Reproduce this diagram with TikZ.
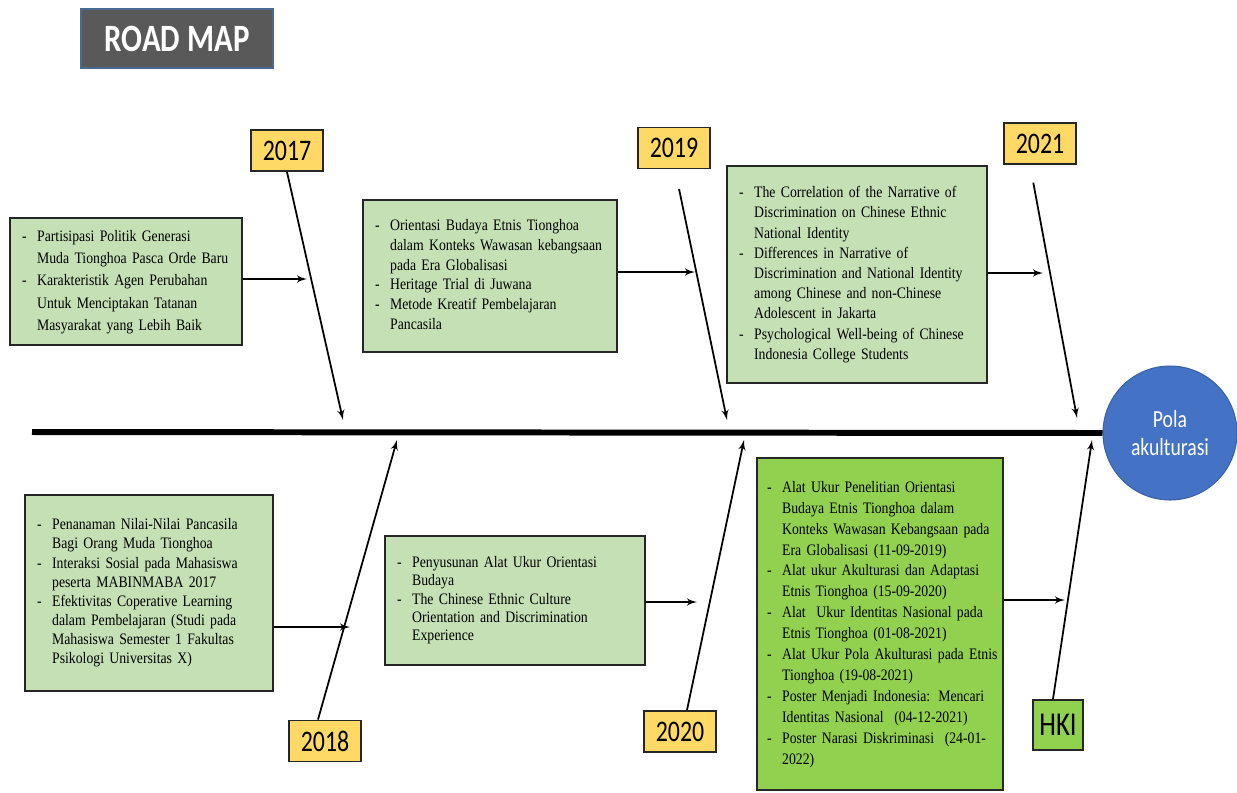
\documentclass[tikz,border=0pt]{standalone}
\usepackage{fontspec}
\setmainfont{Liberation Serif}[FakeStretch=0.86]
\newfontfamily\calibri{Carlito}[FakeStretch=0.8]
\usepackage{tikz}
\usetikzlibrary{arrows}
\usetikzlibrary{positioning}
\definecolor{lgreen}{HTML}{C5E0B4}
\definecolor{bgreen}{HTML}{92D050}
\definecolor{ayellow}{HTML}{FFD966}
\definecolor{mblue}{HTML}{4472C4}
\definecolor{dgrey}{HTML}{595959}
\definecolor{slate}{HTML}{4A6A94}
\tikzset{arr/.style = {-latex', line width=1pt}}
\tikzset{spine/.style = {line width=3.4pt}}
\tikzset{topic/.style = {draw=black!85, line width=1pt, fill=lgreen,
                         inner xsep=0.24cm, inner ysep=2pt,
                         font=\fontsize{9.1pt}{#1}\selectfont},
         topic/.default = 11.4pt}
\tikzset{year/.style = {draw=black!85, line width=1.1pt, fill=ayellow,
                        minimum width=1.44cm, minimum height=0.82cm, inner sep=0,
                        font=\calibri\fontsize{17pt}{17pt}\selectfont}}
\newenvironment{points}{\begin{tabular}{@{}l@{\hspace{6pt}}l@{}}}{\end{tabular}}

\begin{document}
\begin{tikzpicture}[x=0.02cm, y=-0.02cm]
  \useasboundingbox (0,0) rectangle (1237,792);

  \node [draw=slate, line width=1.2pt, fill=dgrey, text=white,
         minimum width=3.84cm, minimum height=1.18cm,
         font=\calibri\bfseries\fontsize{22pt}{22pt}\selectfont] (roadmap) at (177,38.5) {ROAD MAP};

  \coordinate (spineL) at (32,432);
  \node [circle, fill=mblue, draw=mblue!85!black, line width=0.6pt, minimum size=2.68cm,
         text=white, align=center, font=\calibri\fontsize{14pt}{16pt}\selectfont] (pola) at (1170,433)
        {Pola\\akulturasi};
  \draw [spine] (spineL) -- (pola.west);

  \node [year] (y17) at (287,150.5) {2017};
  \node [year] (y19) at (674,148) {2019};
  \node [year] (y21) at (1040,143.5) {2021};
  \node [year] (y18) at (325,741) {2018};
  \node [year] (y20) at (680,731.5) {2020};
  \node [draw=black!85, line width=1.2pt, fill=bgreen, minimum size=1cm, inner sep=0,
         font=\calibri\fontsize{19pt}{19pt}\selectfont] (hki) at (1058,725) {HKI};

  \node [topic=12.7pt, text width=4.16cm, minimum height=2.54cm] (box1) at (126,281.5) {
    \begin{points}
      - & Partisipasi Politik Generasi\\
        & Muda Tionghoa Pasca Orde Baru\\
      - & Karakteristik Agen Perubahan\\
        & Untuk Menciptakan Tatanan\\
        & Masyarakat yang Lebih Baik
    \end{points}};
  \node [topic=11.2pt, text width=4.6cm, minimum height=3.04cm] (box2) at (490,276) {
    \begin{points}
      - & Orientasi Budaya Etnis Tionghoa\\
        & dalam Konteks Wawasan kebangsaan\\
        & pada Era Globalisasi\\
      - & Heritage Trial di Juwana\\
      - & Metode Kreatif Pembelajaran\\
        & Pancasila
    \end{points}};
  \node [topic=11.5pt, text width=4.72cm, minimum height=4.34cm] (box3) at (857,274.5) {
    \begin{points}
      - & The Correlation of the Narrative of\\
        & Discrimination on Chinese Ethnic\\
        & National Identity\\
      - & Differences in Narrative of\\
        & Discrimination and National Identity\\
        & among Chinese and non-Chinese\\
        & Adolescent in Jakarta\\
      - & Psychological Well-being of Chinese\\
        & Indonesia College Students
    \end{points}};
  \node [topic=10.9pt, text width=4.48cm, minimum height=3.92cm] (box4) at (149,593) {
    \begin{points}
      - & Penanaman Nilai-Nilai Pancasila\\
        & Bagi Orang Muda Tionghoa\\
      - & Interaksi Sosial pada Mahasiswa\\
        & peserta MABINMABA 2017\\
      - & Efektivitas Coperative Learning\\
        & dalam Pembelajaran (Studi pada\\
        & Mahasiswa Semester 1 Fakultas\\
        & Psikologi Universitas X)
    \end{points}};
  \node [topic=10.4pt, text width=4.72cm, minimum height=2.58cm] (box5) at (515,600.5) {
    \begin{points}
      - & Penyusunan Alat Ukur Orientasi\\
        & Budaya\\
      - & The Chinese Ethnic Culture\\
        & Orientation and Discrimination\\
        & Experience
    \end{points}};
  \node [topic=11.9pt, fill=bgreen, inner xsep=0.2cm, text width=4.52cm, minimum height=6.64cm] (box6) at (880,624) {
    \begin{points}
      - & Alat Ukur Penelitian Orientasi\\
        & Budaya Etnis Tionghoa dalam\\
        & Konteks Wawasan Kebangsaan pada\\
        & Era Globalisasi (11-09-2019)\\
      - & Alat ukur Akulturasi dan Adaptasi\\
        & Etnis Tionghoa (15-09-2020)\\
      - & Alat\ \ Ukur Identitas Nasional pada\\
        & Etnis Tionghoa (01-08-2021)\\
      - & Alat Ukur Pola Akulturasi pada Etnis\\
        & Tionghoa (19-08-2021)\\
      - & Poster Menjadi Indonesia: Mencari\\
        & Identitas Nasional\ \ (04-12-2021)\\
      - & Poster Narasi Diskriminasi\ \ (24-01-\\
        & 2022)
    \end{points}};

  \coordinate (t17) at (343,420);
  \coordinate (t19) at (727,420);
  \coordinate (t21) at (1077,418);
  \coordinate (t18) at (397,440);
  \coordinate (t20) at (744,440);
  \coordinate (thki) at (1092,440);
  \coordinate (h1) at (307,279);
  \coordinate (h2) at (695,272);
  \coordinate (h3) at (1043,273);
  \coordinate (h4) at (350,627);
  \coordinate (h5) at (697,602);
  \coordinate (h6) at (1065,600);

  \draw [arr] (y17.south) -- (t17);
  \draw [arr, shorten <=0.4cm] ([xshift=0.02cm]y19.south) -- (t19);
  \draw [arr, shorten <=0.36cm] ([xshift=-0.2cm]y21.south) -- (t21);
  \draw [arr] ([xshift=-0.14cm]y18.north) -- (t18);
  \draw [arr] ([xshift=0.14cm]y20.north) -- (t20);
  \draw [arr] ([xshift=-0.1cm]hki.north) -- (thki);

  \draw [arr] (box1.east |- h1) -- (h1);
  \draw [arr] (box2.east |- h2) -- (h2);
  \draw [arr] (box3.east |- h3) -- (h3);
  \draw [arr] (box4.east |- h4) -- (h4);
  \draw [arr] (box5.east |- h5) -- (h5);
  \draw [arr] (box6.east |- h6) -- (h6);
\end{tikzpicture}
\end{document}
